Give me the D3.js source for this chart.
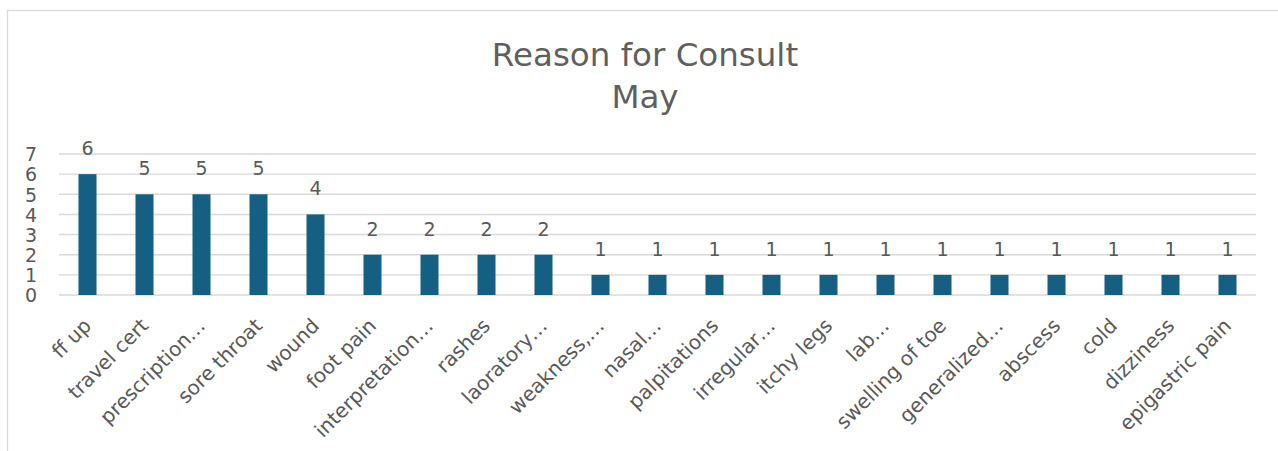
<!DOCTYPE html>
<html lang="en">
    <head>
        <meta charset="utf-8">
        <script type="text/javascript" src="https://cdn.jsdelivr.net/npm/d3@7"></script>
        <style type="text/css">
            body {
              margin: 0;
              background: #ffffff;
            }

            .bar {
              fill: #156082;
            }

            .grid line {
              stroke: #d9d9d9;
              stroke-width: 1.4;
            }

            text {
              font-family: "DejaVu Sans", "Liberation Sans", sans-serif;
              fill: #595959;
            }
        </style>
    </head>
    <body>
        <script type="text/javascript">
            // data
            var categories = ["ff up", "travel cert", "prescription…", "sore throat", "wound",
                              "foot pain", "interpretation…", "rashes", "laoratory…", "weakness,…",
                              "nasal…", "palpitations", "irregular…", "itchy legs", "lab…",
                              "swelling of toe", "generalized…", "abscess", "cold", "dizziness",
                              "epigastric pain"];
            var counts = [6, 5, 5, 5, 4, 2, 2, 2, 2, 1, 1, 1, 1, 1, 1, 1, 1, 1, 1, 1, 1];
            var yTicks = [0, 1, 2, 3, 4, 5, 6, 7];
            var titleLines = ["Reason for Consult", "May"];

            var w = 1278, h = 451;
            var plot = {left: 59, right: 1256, top: 154, bottom: 295};

            var svg = d3.select("body")
              .append("svg")
              .attr("width", w)
              .attr("height", h);

            // chart border (only left and top edges fall inside the picture)
            svg.append("rect")
              .attr("x", 7.5)
              .attr("y", 10.5)
              .attr("width", 1400)
              .attr("height", 600)
              .attr("fill", "none")
              .attr("stroke", "#d9d9d9")
              .attr("stroke-width", 1.3);

            // title
            svg.append("g")
              .selectAll("text")
              .data(titleLines)
              .enter()
              .append("text")
              .attr("x", 645)
              .attr("y", function(d, i) { return 66 + i * 42; })
              .attr("text-anchor", "middle")
              .style("font-size", "32.5px")
              .style("fill", "#5f5f5f")
              .text(function(d) { return d; });

            // scales
            var xScale = d3.scaleBand()
              .domain(categories)
              .range([plot.left, plot.right])
              .paddingInner(0.684)
              .paddingOuter(0.342);

            var yScale = d3.scaleLinear()
              .domain([0, 7])
              .range([plot.bottom, plot.top]);

            // gridlines
            svg.append("g")
              .attr("class", "grid")
              .selectAll("line")
              .data(yTicks)
              .enter()
              .append("line")
              .attr("x1", plot.left)
              .attr("x2", plot.right)
              .attr("y1", function(d) { return yScale(d); })
              .attr("y2", function(d) { return yScale(d); });

            // y axis labels
            var yAxis = d3.axisLeft(yScale)
              .tickValues(yTicks)
              .tickFormat(d3.format("d"))
              .tickSize(0)
              .tickPadding(0);

            svg.append("g")
              .attr("class", "y axis")
              .attr("transform", "translate(37,0)")
              .call(yAxis)
              .call(function(g) { g.select(".domain").remove(); })
              .selectAll("text")
                .attr("dy", "0.36em")
                .style("font-size", "19px")
                .style("font-family", "\"DejaVu Sans\", sans-serif")
                .style("fill", "#595959");

            // bars
            svg.selectAll("rect.bar")
              .data(counts)
              .enter()
              .append("rect")
              .attr("class", "bar")
              .attr("x", function(d, i) { return xScale(categories[i]); })
              .attr("y", function(d) { return yScale(d); })
              .attr("width", xScale.bandwidth())
              .attr("height", function(d) { return plot.bottom - yScale(d); });

            // data labels
            svg.append("g")
              .selectAll("text")
              .data(counts)
              .enter()
              .append("text")
              .attr("x", function(d, i) { return xScale(categories[i]) + xScale.bandwidth() / 2; })
              .attr("y", function(d) { return yScale(d) - 19; })
              .attr("text-anchor", "middle")
              .style("font-size", "19px")
              .text(function(d) { return d; });

            // x axis labels rotated
            var xAxis = d3.axisBottom(xScale)
              .tickSize(0)
              .tickPadding(0);

            svg.append("g")
              .attr("class", "x axis")
              .attr("transform", "translate(0," + plot.bottom + ")")
              .call(xAxis)
              .call(function(g) { g.select(".domain").remove(); })
              .selectAll("text")
                .style("text-anchor", "end")
                .style("font-size", "20px")
                .style("font-family", "\"DejaVu Sans\", sans-serif")
                .style("fill", "#595959")
                .attr("y", 0)
                .attr("dy", "0")
                .attr("transform", "translate(5,32) rotate(-45)");
        </script>
    </body>
</html>
